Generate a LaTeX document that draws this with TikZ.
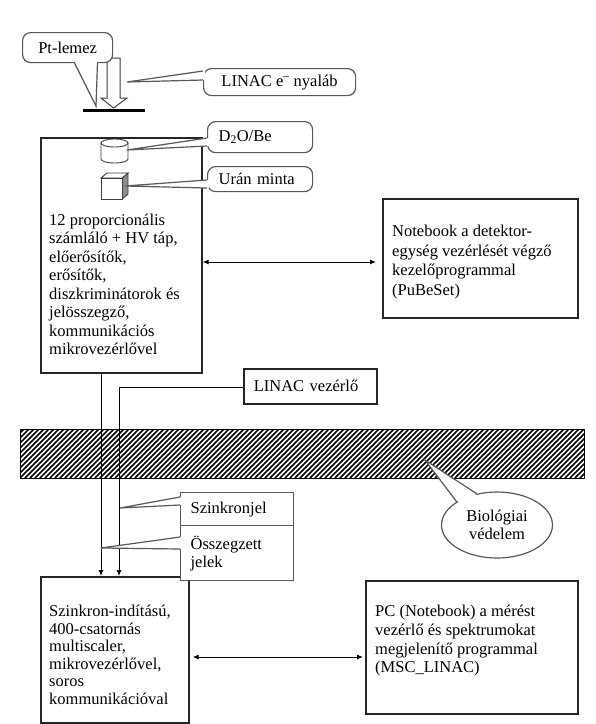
\documentclass[tikz,border=0pt]{standalone}
\usepackage{fontspec}
\setmainfont{Liberation Serif}
\usetikzlibrary{arrows.meta,shapes.geometric,calc}
\begin{document}
\begin{tikzpicture}[x=1pt,y=-1pt,
  box/.style={draw=black!85, line width=1.6pt, fill=white, inner sep=0pt},
  callbox/.style={draw=black!65, line width=1.2pt, fill=white, rounded corners=8pt, inner ysep=0pt,
                  font=\fontsize{16.5}{18}\selectfont},
  linebox/.style={draw=black!65, line width=1.2pt, fill=white, inner ysep=0pt, align=left,
                  font=\fontsize{16.5}{18}\selectfont},
  tail/.style={draw=black!65, line width=1.2pt},
  txt/.style={anchor=north west, inner sep=0pt, align=left},
  conn/.style={draw=black, line width=0.9pt},
  ah/.style={{Latex[length=6pt,width=5pt]}-{Latex[length=6pt,width=5pt]}},
  ta/.style={-{Latex[length=6pt,width=5pt]}},
]
\useasboundingbox (0,0) rectangle (596,724);

% beam arrow and Pt plate
\draw[black!75, line width=1pt, fill=white] (107,58) -- (120,58) -- (120,98) -- (127,98) -- (113.5,108) -- (101,98) -- (107,98) -- cycle;
\draw[line width=3pt] (83,110) -- (145,110);

% Pt-lemez callout
\node[callbox, anchor=north west, minimum width=90pt, minimum height=30pt] (pt) at (22,32) {Pt-lemez};
\coordinate (pttip) at (96,106);
\fill[white] (74,60) -- (pttip) -- (97.5,60) -- cycle;
\draw[tail] (74,62) -- (pttip) -- (97.5,62);

% LINAC e- beam callout
\node[callbox, anchor=north west, minimum width=152pt, minimum height=27pt] (beam) at (203,68) {LINAC e\textsuperscript{–} nyaláb};
\coordinate (beamtip) at (127,82);
\fill[white] (205,71) -- (beamtip) -- (205,80) -- cycle;
\draw[tail] (203,71) -- (beamtip) -- (203,80);

% detector box
\node[box, anchor=north west, minimum width=161pt, minimum height=235pt] (det) at (40,137) {};
\node[txt, font=\fontsize{16.5}{18.5}\selectfont] (dett) at (49,213.5)
  {12 proporcionális\\számláló + HV táp,\\előerősítők,\\erősítők,\\diszkriminátorok és\\jelösszegző,\\kommunikációs\\mikrovezérlővel};

% cylinder (D2O/Be)
\draw[black!75, line width=0.9pt, fill=white] (101,143) -- (101,159) arc[start angle=180, end angle=360, x radius=13.5pt, y radius=4pt] -- (128,143);
\draw[black!75, line width=0.9pt] (114.5,143) ellipse[x radius=13.5pt, y radius=4pt];
\coordinate (cyl) at (127,150);

% cube (uranium sample)
\draw[black!75, line width=0.9pt, fill=black!45] (122,178) -- (128,173) -- (128,194) -- (122,199) -- cycle;
\draw[black!75, line width=0.9pt, fill=white] (101,178) -- (107,173) -- (128,173) -- (122,178) -- cycle;
\draw[black!75, line width=0.9pt, fill=white] (101,178) rectangle (122,199);
\coordinate (cube) at (125,186);

% D2O/Be callout
\node[callbox, anchor=north west, minimum height=31pt, text width=83pt, inner xsep=11pt, align=left] (d2o) at (207,121) {D\textsubscript{2}O/Be};
\fill[white] (209,138) -- (cyl) -- (209,146) -- cycle;
\draw[tail] (207,138) -- (cyl) -- (207,146);

% Uran minta callout
\node[callbox, anchor=north west, minimum height=25pt, text width=83pt, inner xsep=11pt, align=left] (uran) at (207,166) {Urán minta};
\fill[white] (209,180) -- (cube) -- (209,188) -- cycle;
\draw[tail] (207,180) -- (cube) -- (207,188);

% notebook box
\node[box, anchor=north west, minimum width=195pt, minimum height=119pt] (nb) at (382,198) {};
\node[txt, font=\fontsize{16.5}{19.5}\selectfont] (nbt) at (392,225)
  {Notebook a detektor-\\egység vezérlését végző\\kezelőprogrammal\\(PuBeSet)};
\coordinate (y1) at (0,262);
\draw[conn, ah, shorten >=6pt] (det.east |- y1) -- (nb.west |- y1);

% LINAC control box
\node[box, anchor=north west, minimum width=133pt, minimum height=35pt, text width=113pt, inner xsep=10pt, align=left,
      font=\fontsize{16.5}{18}\selectfont] (lv) at (243,368) {LINAC vezérlő};

% shielding (hatched)
\begin{scope}
  \clip (20,429) rectangle (584,478);
  \foreach \i in {-60,-55,...,590} \draw[line width=1.6pt] (\i,478) -- (\i+49,429);
\end{scope}
\draw[line width=1pt] (20,429) rectangle (584,478);

% multiscaler box
\node[box, anchor=north west, minimum width=148pt, minimum height=146pt] (ms) at (40,576) {};
\node[txt, font=\fontsize{16.5}{17.5}\selectfont] (mst) at (49,605)
  {Szinkron-indítású,\\400-csatornás\\multiscaler,\\mikrovezérlővel,\\soros\\kommunikációval};

% connections to the multiscaler
\draw[conn, ta] ($(det.south west)+(61,0)$) -- ($(ms.north west)+(61,0)$);
\draw[conn, ta] (lv.west |- 0,387) -| ($(ms.north west)+(79,0)$);

% Szinkronjel / Osszegzett jelek callouts
\node[linebox, anchor=north west, minimum height=33pt, text width=93pt, inner xsep=10pt] (sz) at (180,492) {Szinkronjel};
\coordinate (sztip) at (120,508);
\fill[white] (182,497) -- (sztip) -- (182,505) -- cycle;
\draw[tail] (180,497) -- (sztip) -- (180,505);

\node[linebox, anchor=north west, minimum height=55pt, text width=93pt, inner xsep=10pt] (os) at (180,525) {Összegzett\\jelek};
\coordinate (ostip) at (101,548);
\fill[white] (182,537) -- (ostip) -- (182,549) -- cycle;
\draw[tail] (180,537) -- (ostip) -- (180,549);

% PC box
\node[box, anchor=north west, minimum width=212pt, minimum height=133pt] (pc) at (365,580) {};
\node[txt, font=\fontsize{16.5}{18.7}\selectfont] (pct) at (375,605)
  {PC (Notebook) a mérést\\vezérlő és spektrumokat\\megjelenítő programmal\\(MSC\_LINAC)};
\coordinate (y2) at (0,657);
\draw[conn, ah, shorten <=3pt, shorten >=2pt] (ms.east |- y2) -- (pc.west |- y2);

% Biologiai vedelem callout
\node[ellipse, draw=black!65, line width=1.2pt, fill=white, minimum width=111pt, minimum height=66pt, inner sep=0pt,
      align=center, font=\fontsize{16.5}{18}\selectfont] (bio) at (497,525) {Biológiai\\védelem};
\coordinate (biotip) at (425,460);
\fill[white] (biotip) -- ($(bio.150)!0.08!(bio.center)$) -- ($(bio.123)!0.08!(bio.center)$) -- cycle;
\draw[tail] (bio.150) -- (biotip) -- (bio.123);
\end{tikzpicture}
\end{document}
